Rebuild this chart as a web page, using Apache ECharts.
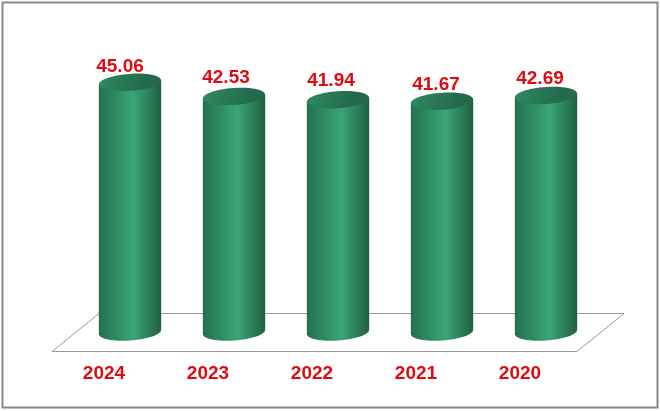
<!DOCTYPE html>
<html>
<head>
<meta charset="utf-8">
<script src="https://cdn.jsdelivr.net/npm/echarts@6/dist/echarts.min.js"></script>
<style>html,body{margin:0;padding:0;background:#fff}#main{width:660px;height:411px}</style>
</head>
<body>
<div id="main"></div>
<script>
var years = ['2024', '2023', '2022', '2021', '2020'];
var values = [45.06, 42.53, 41.94, 41.67, 42.69];

var chart = echarts.init(document.getElementById('main'), null, {renderer: 'canvas'});

var bodyFill = new echarts.graphic.LinearGradient(0, 0, 1, 0, [
  {offset: 0, color: '#257150'},
  {offset: 0.3, color: '#2f8d63'},
  {offset: 0.55, color: '#3aa577'},
  {offset: 0.8, color: '#2c8059'},
  {offset: 1, color: '#1e5f44'}
]);
var capFill = new echarts.graphic.LinearGradient(0, 0, 0.7, 1, [
  {offset: 0, color: '#2f8a62'},
  {offset: 1, color: '#236a4c'}
]);

// labels in the original sit a little off centre, each by its own amount
var labelNudge = [[-10, -16], [-8, -19], [-7, -19], [-6, -16], [-6, -17]];

function drawCylinder(params, api) {
  var top = api.coord([api.value(0), api.value(1)]);
  var base = api.coord([api.value(0), 0]);
  var rx = api.size([1, 0])[0] * 0.3;
  var ry = 8.5;
  var tilt = 2.2;
  var cx = top[0];
  var nudge = labelNudge[params.dataIndex];
  return {
    type: 'group',
    children: [
      {type: 'ellipse', shape: {cx: cx, cy: base[1], rx: rx, ry: ry}, rotation: 0.07, originX: cx, originY: base[1], style: {fill: bodyFill}},
      {type: 'polygon', shape: {points: [[cx - rx, top[1] + tilt], [cx + rx, top[1] - tilt], [cx + rx, base[1] - tilt], [cx - rx, base[1] + tilt]]}, style: {fill: bodyFill}},
      {type: 'ellipse', shape: {cx: cx, cy: top[1], rx: rx, ry: ry}, rotation: 0.07, originX: cx, originY: top[1], style: {fill: capFill}},
      {type: 'text', style: {text: api.value(1).toFixed(2), x: cx + nudge[0], y: top[1] + nudge[1], align: 'center', verticalAlign: 'middle', fill: '#e00b12', font: 'bold 19px "Liberation Sans"'}}
    ]
  };
}

chart.setOption({
  animation: false,
  backgroundColor: '#fff',
  grid: {left: 78, width: 520, top: 55, height: 277},
  xAxis: {
    type: 'category',
    data: years,
    axisLine: {show: false},
    axisTick: {show: false},
    axisLabel: {color: '#e00b12', fontFamily: 'Liberation Sans', fontWeight: 'bold', fontSize: 19, margin: 32, padding: [0, 52, 0, 0]}
  },
  yAxis: {type: 'value', min: 0, max: 50, show: false},
  graphic: [
    {type: 'rect', z: -2, shape: {x: 2.5, y: 2.5, width: 655, height: 405}, style: {fill: '#fff', stroke: '#888', lineWidth: 2}},
    {type: 'polygon', z: -1, shape: {points: [[52, 351.5], [577, 351.5], [624, 313.5], [99, 313.5]]}, style: {fill: '#fff', stroke: '#999', lineWidth: 1}}
  ],
  series: [{
    type: 'custom',
    renderItem: drawCylinder,
    data: values.map(function (v, i) { return [i, v]; }),
    encode: {x: 0, y: 1},
    clip: false
  }]
});
</script>
</body>
</html>
